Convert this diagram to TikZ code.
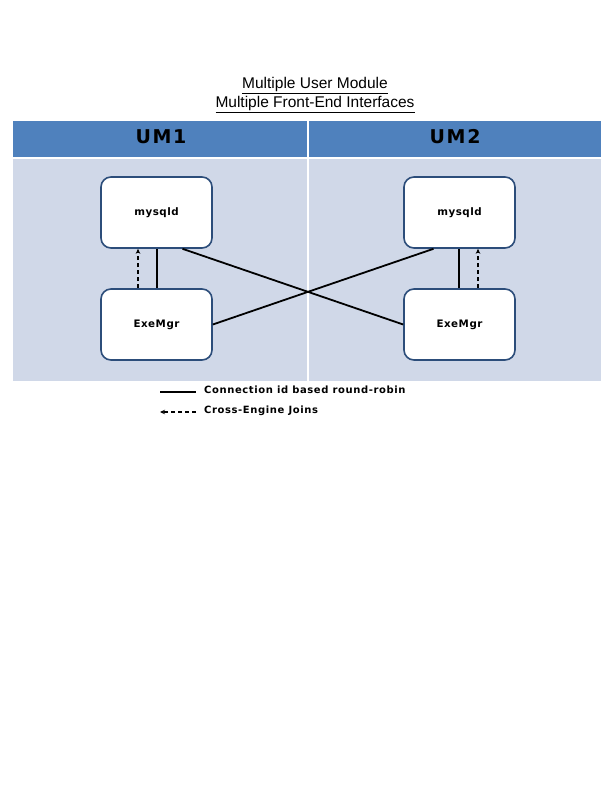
\documentclass[tikz,border=0pt]{standalone}
\usepackage{fontspec}
\setmainfont{Liberation Sans}
\newfontfamily\djb{DejaVu Sans Bold}[LetterSpace=5]
\newfontfamily\djl{DejaVu Sans Bold}[LetterSpace=6]
\newfontfamily\djbsp{DejaVu Sans Bold}[LetterSpace=9]
\usetikzlibrary{arrows.meta}
\definecolor{hdr}{HTML}{4F81BD}
\definecolor{bodyc}{HTML}{D0D8E8}
\definecolor{bord}{HTML}{2C4D7A}
\begin{document}
\begin{tikzpicture}[x=1pt,y=-1pt,
  procbox/.style={draw=bord,line width=1.6pt,fill=white,rounded corners=10pt,minimum width=111pt,minimum height=71pt,inner sep=0pt,font=\djb\fontsize{10.3}{12}\selectfont},
  conn/.style={line width=1.8pt,black},
  xjoin/.style={line width=1.4pt,black,dash pattern=on 4.5pt off 2.5pt,-{Stealth[length=5pt,width=4.5pt]}},
  hdrtxt/.style={font=\djbsp\fontsize{19}{21}\selectfont,text=black},
  titletxt/.style={font=\fontsize{15.5}{19}\selectfont,align=center},
  legtxt/.style={font=\djl\fontsize{10}{11}\selectfont,anchor=west,inner sep=0pt}]
\useasboundingbox (0,0) rectangle (612,792);
\fill[white] (0,0) rectangle (612,792);
% bands
\fill[hdr] (13,121) rectangle (601,157);
\fill[bodyc] (13,159) rectangle (601,381);
\draw[white,line width=1.5pt] (308,121) -- (308,381);
% title
\node[titletxt] (t1) at (315,85.5) {\underline{Multiple User Module}};
\node[titletxt] (t2) at (315,104.5) {\underline{Multiple Front-End Interfaces}};
% headers
\node[hdrtxt] (um1) at (161,137) {UM1};
\node[hdrtxt] (um2) at (455,137) {UM2};
% boxes
\node[procbox] (m1) at (156.5,212.5) {mysqld};
\node[procbox] (e1) at (156.5,324.5) {ExeMgr};
\node[procbox] (m2) at (459.5,212.5) {mysqld};
\node[procbox] (e2) at (459.5,324.5) {ExeMgr};
% verticals
\draw[conn] ([xshift=0.5pt]e1.north) -- ([xshift=0.5pt]m1.south);
\draw[conn] ([xshift=-0.5pt]e2.north) -- ([xshift=-0.5pt]m2.south);
\draw[xjoin] ([xshift=-18.5pt]e1.north) -- ([xshift=-18.5pt]m1.south);
\draw[xjoin] ([xshift=18.5pt]e2.north) -- ([xshift=18.5pt]m2.south);
% cross
\draw[conn] ([xshift=26pt]m1.south) -- (e2.west);
\draw[conn] (e1.east) -- ([xshift=-26pt]m2.south);
% legend
\coordinate (l1a) at (160,392);
\coordinate (l1b) at (196,392);
\coordinate (l2a) at (160,412);
\coordinate (l2b) at (196,412);
\draw[conn] (l1a) -- (l1b);
\draw[xjoin] (l2b) -- (l2a);
\node[legtxt] (lt1) at (204,390) {Connection id based round-robin};
\node[legtxt] (lt2) at (204,411) {Cross-Engine Joins};
\end{tikzpicture}
\end{document}
